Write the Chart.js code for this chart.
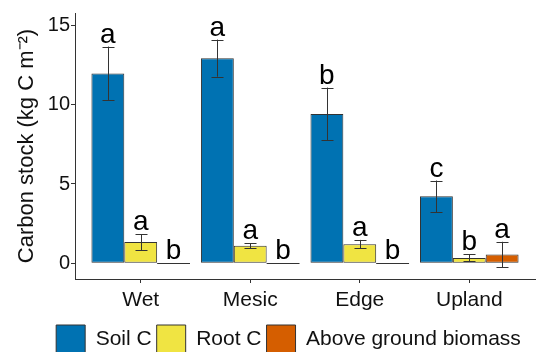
<!DOCTYPE html>
<html>
<head>
<meta charset="utf-8">
<title>Carbon stock</title>
<script src="https://cdn.jsdelivr.net/npm/chart.js@4.4.0/dist/chart.umd.min.js"></script>
<style>
  body { margin: 0; overflow: hidden; background: #fff; }
</style>
</head>
<body>
<canvas id="carbonChart" width="540" height="364"></canvas>
<script>
  // values (kg C m-2), mean and standard error
  const sites = ['Wet', 'Mesic', 'Edge', 'Upland'];
  const soilC = [11.98, 12.95, 9.42, 4.22];
  const soilSE = [1.7, 1.17, 1.67, 1.0];
  const rootC = [1.33, 1.1, 1.2, 0.33];
  const rootSE = [0.5, 0.15, 0.27, 0.22];
  const aboveC = [0, 0, 0, 0.55];
  const aboveSE = [0, 0, 0, 0.8];
  const soilLetters = ['a', 'a', 'b', 'c'];
  const rootLetters = ['a', 'a', 'a', 'b'];
  const aboveLetters = ['b', 'b', 'b', 'a'];
  const yTicks = [0, 5, 10, 15];

  const font = 'Arial, "Liberation Sans", sans-serif';
  const ink = '#111';

  function toPoints(vals) {
    return vals.map((v, i) => ({ x: i, y: v }));
  }

  // error bars, significance letters and the flat line for zero bars
  const errorBars = {
    id: 'errorBars',
    afterLayout(chart) {
      // legend sits a bit right of the canvas centre in the original
      chart.legend.left += 21;
      chart.legend.right += 21;
    },
    afterDatasetsDraw(chart) {
      const ctx = chart.ctx;
      const y = chart.scales.y;
      chart.data.datasets.forEach((ds, di) => {
        const meta = chart.getDatasetMeta(di);
        meta.data.forEach((bar, i) => {
          const v = ds.data[i].y;
          const se = ds.se[i];
          const half = bar.width / 2;
          ctx.save();
          ctx.strokeStyle = '#333';
          ctx.lineWidth = 1;
          if (v === 0) {
            const y0 = Math.round(y.getPixelForValue(0)) + 0.5;
            ctx.beginPath();
            ctx.moveTo(bar.x - half, y0);
            ctx.lineTo(bar.x + half, y0);
            ctx.stroke();
          }
          const top = y.getPixelForValue(v + se);
          if (se > 0) {
            const bot = y.getPixelForValue(v - se);
            const cx = Math.round(bar.x) + 0.5;
            ctx.beginPath();
            ctx.moveTo(cx, top);
            ctx.lineTo(cx, bot);
            ctx.moveTo(cx - 6, Math.round(top) + 0.5);
            ctx.lineTo(cx + 6, Math.round(top) + 0.5);
            ctx.moveTo(cx - 6, Math.round(bot) + 0.5);
            ctx.lineTo(cx + 6, Math.round(bot) + 0.5);
            ctx.stroke();
          }
          ctx.fillStyle = '#000';
          ctx.font = '28px ' + font;
          ctx.textAlign = 'center';
          ctx.textBaseline = 'alphabetic';
          ctx.fillText(ds.letters[i], bar.x, top - 4);
          ctx.restore();
        });
      });
    }
  };

  const ctx = document.getElementById('carbonChart').getContext('2d');
  new Chart(ctx, {
    type: 'bar',
    data: {
      datasets: [
        { label: 'Soil C', data: toPoints(soilC), se: soilSE, letters: soilLetters,
          backgroundColor: '#0072B2', borderColor: '#333', borderWidth: 1, borderSkipped: false },
        { label: 'Root C', data: toPoints(rootC), se: rootSE, letters: rootLetters,
          backgroundColor: '#F0E442', borderColor: '#333', borderWidth: 1, borderSkipped: false },
        { label: 'Above ground biomass', data: toPoints(aboveC), se: aboveSE, letters: aboveLetters,
          backgroundColor: '#D55E00', borderColor: '#333', borderWidth: 1, borderSkipped: false }
      ]
    },
    options: {
      responsive: false,
      animation: false,
      categoryPercentage: 0.9,
      barPercentage: 1.0,
      layout: { padding: { top: 13, right: 5, left: 0, bottom: 0 } },
      plugins: {
        tooltip: { enabled: false },
        legend: {
          position: 'bottom',
          labels: {
            boxWidth: 29,
            boxHeight: 29,
            padding: 5,
            color: ink,
            font: { size: 21, family: font }
          }
        }
      },
      scales: {
        x: {
          type: 'linear',
          offset: false,
          min: -0.6,
          max: 3.6,
          afterBuildTicks: s => { s.ticks = sites.map((c, i) => ({ value: i })); },
          afterFit: s => { s.height = 41; },
          ticks: {
            callback: v => sites[v],
            color: ink,
            padding: 5,
            font: { size: 21, family: font }
          },
          grid: { offset: false, drawOnChartArea: false, drawTicks: true, tickLength: 4, color: '#333' },
          border: { display: true, color: '#333', width: 1 }
        },
        y: {
          min: -1.0,
          max: 15.8,
          afterBuildTicks: s => { s.ticks = yTicks.map(v => ({ value: v })); },
          afterFit: s => { s.width = 75; },
          ticks: {
            color: ink,
            padding: 1,
            font: { size: 20, family: font }
          },
          grid: { drawOnChartArea: false, drawTicks: true, tickLength: 4, color: '#333' },
          border: { display: true, color: '#333', width: 1 },
          title: {
            display: true,
            text: 'Carbon stock (kg C m⁻²)',
            color: ink,
            padding: { top: 14, bottom: 0 },
            font: { size: 22, family: font }
          }
        }
      }
    },
    plugins: [errorBars]
  });
</script>
</body>
</html>
